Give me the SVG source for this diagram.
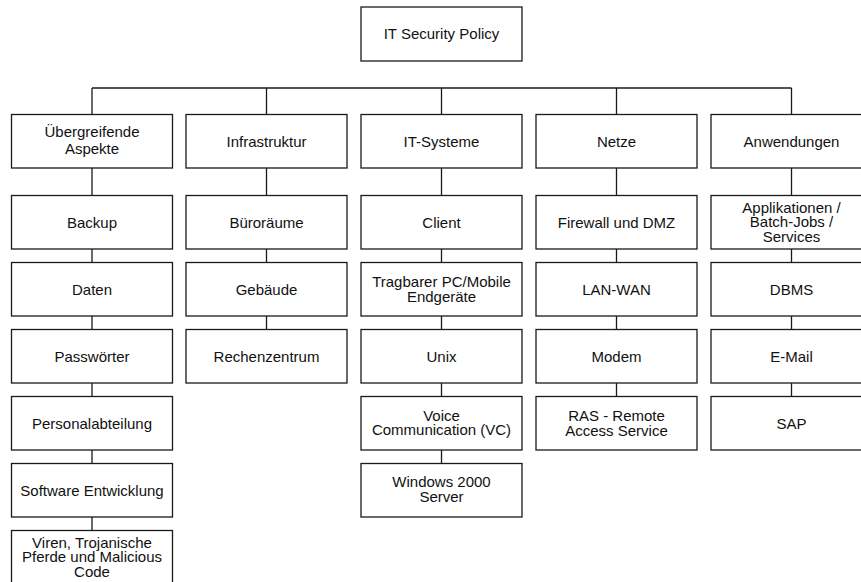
<svg xmlns="http://www.w3.org/2000/svg" width="861" height="582" viewBox="0 0 861 582">
<style>
rect{fill:#fff;stroke:#1a1a1a;stroke-width:1.3}
text{font-family:"Liberation Sans",Arial,sans-serif;font-size:15px;fill:#111;text-anchor:middle}
#connectors path{fill:none;stroke:#1a1a1a;stroke-width:1.3}
</style>
<rect x="0" y="0" width="861" height="582" style="fill:#fff;stroke:none"/>
<g id="connectors">
<path d="M92,88H791.5M92,88V114.5M266.5,88V114.5M441.5,88V114.5M616.5,88V114.5M791.5,88V114.5"/>
<path d="M92,168V195.5M92,249V262.5M92,316V329.5M92,383V396.5M92,450V463.5M92,517V530.5"/>
<path d="M266.5,168V195.5M266.5,249V262.5M266.5,316V329.5"/>
<path d="M441.5,168V195.5M441.5,249V262.5M441.5,316V329.5M441.5,383V396.5M441.5,450V463.5"/>
<path d="M616.5,168V195.5M616.5,249V262.5M616.5,316V329.5M616.5,383V396.5"/>
<path d="M791.5,168V195.5M791.5,249V262.5M791.5,316V329.5M791.5,383V396.5"/>
</g>
<g id="n-root"><rect x="361" y="7" width="161" height="54"/><text x="441.5" y="39">IT Security Policy</text></g>

<g id="n-uebergreifend"><rect x="11.5" y="114.5" width="161" height="53.5"/><text x="92" y="137"><tspan x="92">Übergreifende</tspan><tspan x="92" dy="17">Aspekte</tspan></text></g>
<g id="n-backup"><rect x="11.5" y="195.5" width="161" height="53.5"/><text x="92" y="227.5">Backup</text></g>
<g id="n-daten"><rect x="11.5" y="262.5" width="161" height="53.5"/><text x="92" y="294.5">Daten</text></g>
<g id="n-passwoerter"><rect x="11.5" y="329.5" width="161" height="53.5"/><text x="92" y="361.5">Passwörter</text></g>
<g id="n-personal"><rect x="11.5" y="396.5" width="161" height="53.5"/><text x="92" y="428.5">Personalabteilung</text></g>
<g id="n-software"><rect x="11.5" y="463.5" width="161" height="53.5"/><text x="92" y="495.5">Software Entwicklung</text></g>
<g id="n-viren"><rect x="11.5" y="530.5" width="161" height="53.5"/><text x="92" y="548"><tspan x="92">Viren, Trojanische</tspan><tspan x="92" dy="14.3">Pferde und Malicious</tspan><tspan x="92" dy="14.3">Code</tspan></text></g>

<g id="n-infrastruktur"><rect x="186" y="114.5" width="161" height="53.5"/><text x="266.5" y="146.5">Infrastruktur</text></g>
<g id="n-bueroraeume"><rect x="186" y="195.5" width="161" height="53.5"/><text x="266.5" y="227.5">Büroräume</text></g>
<g id="n-gebaeude"><rect x="186" y="262.5" width="161" height="53.5"/><text x="266.5" y="294.5">Gebäude</text></g>
<g id="n-rechenzentrum"><rect x="186" y="329.5" width="161" height="53.5"/><text x="266.5" y="361.5">Rechenzentrum</text></g>

<g id="n-itsysteme"><rect x="361" y="114.5" width="161" height="53.5"/><text x="441.5" y="146.5">IT-Systeme</text></g>
<g id="n-client"><rect x="361" y="195.5" width="161" height="53.5"/><text x="441.5" y="227.5">Client</text></g>
<g id="n-tragbar"><rect x="361" y="262.5" width="161" height="53.5"/><text x="441.5" y="287.3"><tspan x="441.5">Tragbarer PC/Mobile</tspan><tspan x="441.5" dy="14.5">Endgeräte</tspan></text></g>
<g id="n-unix"><rect x="361" y="329.5" width="161" height="53.5"/><text x="441.5" y="361.5">Unix</text></g>
<g id="n-voice"><rect x="361" y="396.5" width="161" height="53.5"/><text x="441.5" y="420.7"><tspan x="441.5">Voice</tspan><tspan x="441.5" dy="14.5">Communication (VC)</tspan></text></g>
<g id="n-windows"><rect x="361" y="463.5" width="161" height="53.5"/><text x="441.5" y="486.7"><tspan x="441.5">Windows 2000</tspan><tspan x="441.5" dy="15.5">Server</tspan></text></g>

<g id="n-netze"><rect x="536" y="114.5" width="161" height="53.5"/><text x="616.5" y="146.5">Netze</text></g>
<g id="n-firewall"><rect x="536" y="195.5" width="161" height="53.5"/><text x="616.5" y="227.5">Firewall und DMZ</text></g>
<g id="n-lanwan"><rect x="536" y="262.5" width="161" height="53.5"/><text x="616.5" y="294.5">LAN-WAN</text></g>
<g id="n-modem"><rect x="536" y="329.5" width="161" height="53.5"/><text x="616.5" y="361.5">Modem</text></g>
<g id="n-ras"><rect x="536" y="396.5" width="161" height="53.5"/><text x="616.5" y="421.3"><tspan x="616.5">RAS - Remote</tspan><tspan x="616.5" dy="14.5">Access Service</tspan></text></g>

<g id="n-anwendungen"><rect x="711" y="114.5" width="161" height="53.5"/><text x="791.5" y="146.5">Anwendungen</text></g>
<g id="n-applikationen"><rect x="711" y="195.5" width="161" height="53.5"/><text x="791.5" y="213"><tspan x="791.5">Applikationen /</tspan><tspan x="791.5" dy="14.3">Batch-Jobs /</tspan><tspan x="791.5" dy="14.3">Services</tspan></text></g>
<g id="n-dbms"><rect x="711" y="262.5" width="161" height="53.5"/><text x="791.5" y="294.5">DBMS</text></g>
<g id="n-email"><rect x="711" y="329.5" width="161" height="53.5"/><text x="791.5" y="361.5">E-Mail</text></g>
<g id="n-sap"><rect x="711" y="396.5" width="161" height="53.5"/><text x="791.5" y="428.5">SAP</text></g>
</svg>
